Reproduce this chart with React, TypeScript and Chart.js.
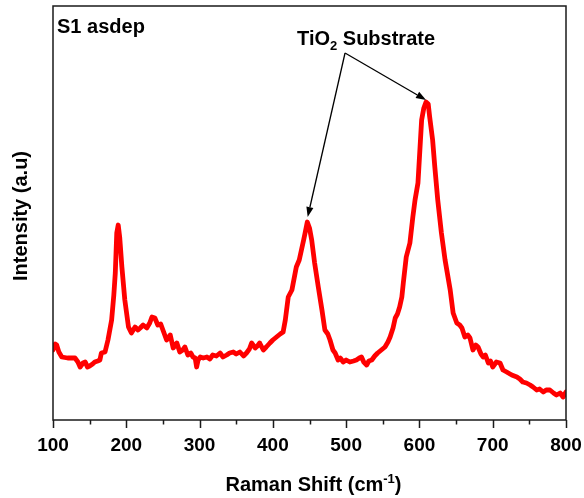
import { useEffect, useRef } from 'react';
import { Chart, registerables } from 'chart.js';

Chart.register(...registerables);

// Raman shift (cm^-1) and intensity (a.u.)
const ramanShift = [
  100, 103, 105, 108, 112, 120, 130, 134, 137, 141, 144, 147, 150, 154, 157, 161, 164, 166, 171, 175, 180, 183, 185, 187, 189, 191, 194, 198, 203,
  207, 212, 216, 219, 223, 228, 232, 235, 239, 243, 247, 250, 255, 260, 264, 269, 273, 277, 280, 284, 288, 291, 294, 296, 298, 301, 305, 310,
  314, 318, 323, 328, 332, 337, 341, 346, 350, 355, 360, 364, 368, 371, 376, 379, 382, 387, 391, 396, 400, 405, 410, 414, 417, 421, 426, 432, 436, 439, 442, 444, 447, 450, 453,
  457, 462, 467, 471, 475, 478, 482, 485, 489, 492, 496, 500, 505, 510, 514, 518, 521, 524, 528, 531, 535, 539, 543, 548, 553, 557, 560, 564, 567, 570, 573, 576, 578, 582,
  587, 591, 594, 598, 603, 606, 609, 612, 614, 618, 621, 625, 630, 635, 642, 646, 651, 655, 658, 662, 666, 669, 673, 677, 680, 684, 687, 690, 694, 697,
  700, 705, 710, 714, 719, 726, 733, 737, 741, 746, 751, 755, 760, 764, 769, 773, 778, 783, 787, 792, 796, 800,
];
const intensity = [
  70, 76, 75, 68, 63, 62, 62, 58, 53, 57, 58, 53, 54, 56, 58, 59, 60, 67, 68, 80, 100, 125, 147, 187, 195, 183, 153, 120, 93,
  87, 93, 90, 92, 95, 92, 97, 103, 102, 95, 96, 90, 80, 85, 72, 77, 68, 70, 73, 65, 67, 63, 62, 53, 60, 63, 62, 63,
  61, 65, 64, 67, 63, 65, 67, 68, 66, 68, 64, 67, 71, 77, 72, 74, 77, 70, 73, 77, 80, 83, 86, 88, 100, 123, 130, 153, 160, 170, 180, 187, 198, 192, 180,
  157, 133, 110, 90, 86, 80, 70, 67, 60, 62, 58, 60, 58, 59, 60, 62, 63, 58, 55, 59, 60, 64, 67, 70, 73, 78, 83, 92, 102, 106, 113, 123, 137, 163,
  177, 203, 220, 237, 300, 312, 318, 316, 303, 280, 253, 220, 187, 160, 130, 107, 97, 95, 92, 83, 85, 82, 70, 75, 73, 66, 63, 65, 57, 59,
  53, 58, 57, 50, 48, 45, 43, 41, 38, 37, 35, 33, 30, 31, 28, 30, 30, 27, 25, 27, 23, 28,
];

const xTickValues = [100, 200, 300, 400, 500, 600, 700, 800];
const xMinorTickValues = [150, 250, 350, 450, 550, 650, 750];

// Annotation anchors in data units
const sampleLabel = { text: 'S1 asdep', x: 105.5, y: 387 };
const peakLabel = { x: 433, y: 375 };
const arrowOrigin = { x: 498.5, y: 367 };
const arrowTips = [
  { x: 447.5, y: 203 },
  { x: 609, y: 320 },
];

const FONT = '"Liberation Sans", Arial, Helvetica, sans-serif';

const decorPlugin = {
  id: 'decor',
  afterDraw(chart: any) {
    const { ctx, chartArea: a, scales } = chart;
    const xs = scales.x;
    const ys = scales.y;
    ctx.save();

    // frame
    ctx.strokeStyle = '#1a1a1a';
    ctx.lineWidth = 1.5;
    ctx.strokeRect(a.left, a.top, a.right - a.left, a.bottom - a.top);

    // ticks
    ctx.lineWidth = 1.5;
    ctx.beginPath();
    xTickValues.forEach((v) => {
      const px = Math.round(xs.getPixelForValue(v)) + 0.5;
      ctx.moveTo(px, a.bottom);
      ctx.lineTo(px, a.bottom + 8);
    });
    xMinorTickValues.forEach((v) => {
      const px = Math.round(xs.getPixelForValue(v)) + 0.5;
      ctx.moveTo(px, a.bottom);
      ctx.lineTo(px, a.bottom + 4.5);
    });
    ctx.stroke();

    ctx.fillStyle = '#000';
    // sample label
    ctx.font = `bold 20px ${FONT}`;
    ctx.textAlign = 'left';
    ctx.textBaseline = 'alphabetic';
    ctx.fillText(sampleLabel.text, xs.getPixelForValue(sampleLabel.x), ys.getPixelForValue(sampleLabel.y));

    // TiO2 Substrate
    let tx = xs.getPixelForValue(peakLabel.x);
    const ty = ys.getPixelForValue(peakLabel.y);
    ctx.fillText('TiO', tx, ty);
    tx += ctx.measureText('TiO').width;
    ctx.font = `bold 13px ${FONT}`;
    ctx.fillText('2', tx, ty + 5);
    tx += ctx.measureText('2').width;
    ctx.font = `bold 20px ${FONT}`;
    ctx.fillText(' Substrate', tx, ty);

    // arrows
    const ox = xs.getPixelForValue(arrowOrigin.x);
    const oy = ys.getPixelForValue(arrowOrigin.y);
    ctx.strokeStyle = '#000';
    ctx.lineWidth = 1.3;
    arrowTips.forEach((t) => {
      const px = xs.getPixelForValue(t.x);
      const py = ys.getPixelForValue(t.y);
      const ang = Math.atan2(py - oy, px - ox);
      const len = 10;
      const hw = 3.6;
      const bx = px - len * Math.cos(ang);
      const by = py - len * Math.sin(ang);
      ctx.beginPath();
      ctx.moveTo(ox, oy);
      ctx.lineTo(bx, by);
      ctx.stroke();
      ctx.beginPath();
      ctx.moveTo(px, py);
      ctx.lineTo(bx + hw * Math.sin(ang), by - hw * Math.cos(ang));
      ctx.lineTo(bx - hw * Math.sin(ang), by + hw * Math.cos(ang));
      ctx.closePath();
      ctx.fill();
    });

    // x title with superscript
    ctx.font = `bold 20px ${FONT}`;
    const p1 = 'Raman Shift (cm';
    const w1 = ctx.measureText(p1).width;
    ctx.font = `bold 13px ${FONT}`;
    const w2 = ctx.measureText('-1').width;
    ctx.font = `bold 20px ${FONT}`;
    const w3 = ctx.measureText(')').width;
    const total = w1 + w2 + w3;
    let cx = (a.left + a.right) / 2 + 4 - total / 2;
    const by = 491;
    ctx.fillText(p1, cx, by);
    cx += w1;
    ctx.font = `bold 13px ${FONT}`;
    ctx.fillText('-1', cx, by - 8);
    cx += w2;
    ctx.font = `bold 20px ${FONT}`;
    ctx.fillText(')', cx, by);

    // y title
    ctx.save();
    ctx.translate(27, (a.top + a.bottom) / 2 + 3);
    ctx.rotate(-Math.PI / 2);
    ctx.textAlign = 'center';
    ctx.textBaseline = 'alphabetic';
    ctx.fillText('Intensity (a.u)', 0, 0);
    ctx.restore();

    ctx.restore();
  },
};

export default function App() {
  const canvasRef = useRef<HTMLCanvasElement | null>(null);

  useEffect(() => {
    document.body.style.margin = '0';
    const canvas = canvasRef.current;
    if (!canvas) return;
    const points = ramanShift.map((x, i) => ({ x, y: intensity[i] }));
    const chart = new Chart(canvas, {
      type: 'line',
      data: {
        datasets: [
          {
            data: points,
            borderColor: '#ff0000',
            borderWidth: 4.8,
            borderJoinStyle: 'round',
            borderCapStyle: 'round',
            pointRadius: 0,
            tension: 0,
            fill: false,
          },
        ],
      },
      options: {
        responsive: false,
        animation: false,
        devicePixelRatio: 1,
        layout: { padding: { left: 0, right: 18, top: 6, bottom: 0 } },
        plugins: { legend: { display: false }, tooltip: { enabled: false } },
        scales: {
          x: {
            type: 'linear',
            min: 100,
            max: 800,
            grid: { display: false, drawTicks: false },
            border: { display: false },
            ticks: {
              stepSize: 100,
              padding: 14,
              color: '#000',
              font: { family: FONT, size: 19, weight: 'bold' },
              maxRotation: 0,
            },
            afterFit: (s: any) => {
              s.height = 78;
              s.paddingLeft = 0;
              s.paddingRight = 0;
            },
          },
          y: {
            type: 'linear',
            min: 0,
            max: 414,
            grid: { display: false, drawTicks: false },
            border: { display: false },
            ticks: { display: false },
            afterFit: (s: any) => {
              s.width = 53;
              s.paddingTop = 0;
              s.paddingBottom = 0;
            },
          },
        },
      },
      plugins: [decorPlugin],
    });
    return () => chart.destroy();
  }, []);

  return (
    <div style={{ width: 584, height: 498 }}>
      <canvas ref={canvasRef} width={584} height={498} style={{ display: 'block' }} />
    </div>
  );
}
